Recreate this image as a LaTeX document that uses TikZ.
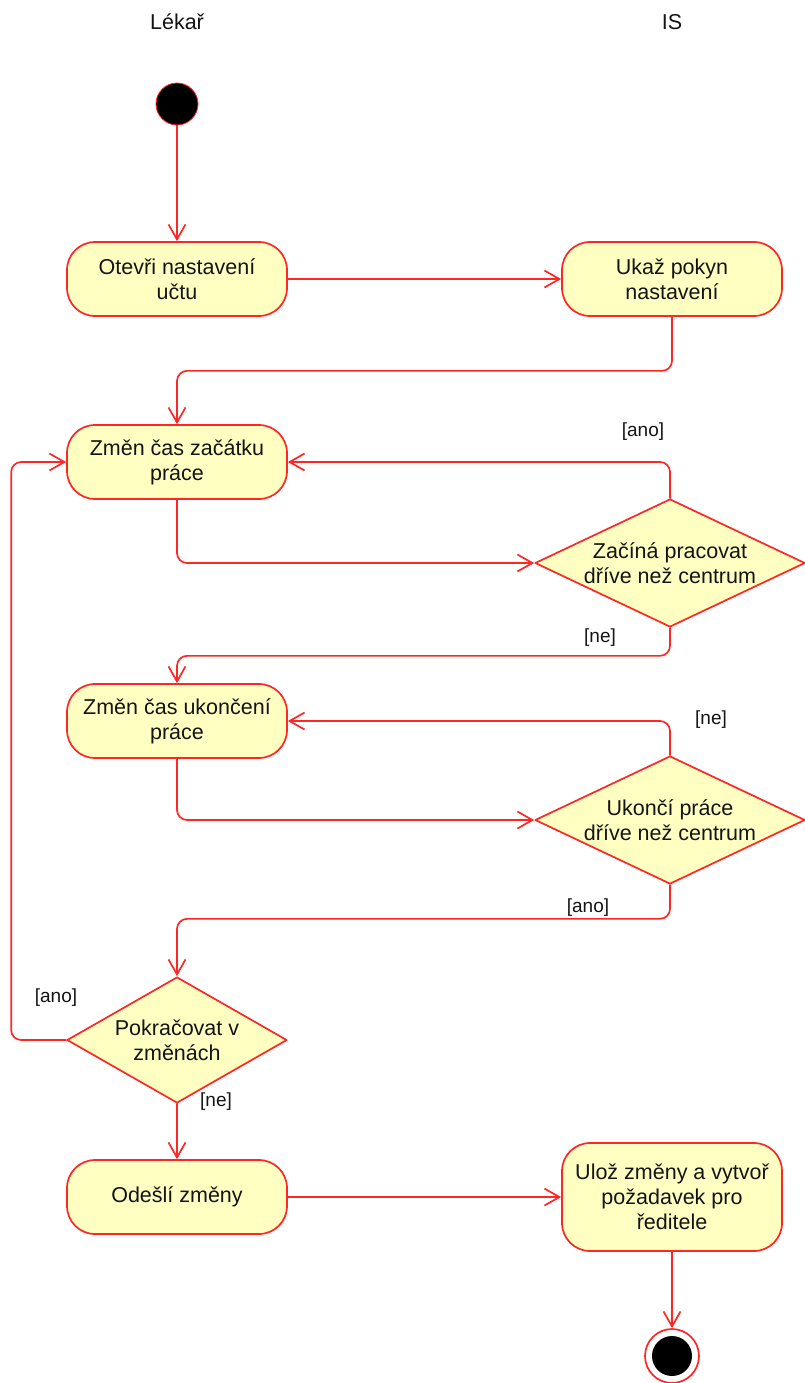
\documentclass[tikz,border=0pt]{standalone}
\usepackage{fontspec}
\setmainfont{Liberation Sans}
\usetikzlibrary{shapes.geometric,arrows.meta}
\definecolor{umlred}{RGB}{255,38,38}
\definecolor{umlfill}{RGB}{255,255,194}
\definecolor{umltext}{RGB}{20,20,20}
\begin{document}
\begin{tikzpicture}[x=1pt, y=-1pt, line cap=round, line join=round, font=\fontsize{21.5}{25}\selectfont, >={Straight Barb[length=15pt,width=17pt]}]
			\tikzset{action/.style={draw=umlred, line width=1.7pt, fill=umlfill, text=umltext, rounded corners=28pt, minimum width=220pt, minimum height=74pt, align=center, inner sep=0pt},
				decision/.style={draw=umlred, line width=1.7pt, fill=umlfill, text=umltext, diamond, aspect=2.1, minimum width=270pt, minimum height=128pt, align=center, inner sep=0pt},
				flow/.style={draw=umlred, line width=1.7pt, ->, rounded corners=10pt},
				guard/.style={text=umltext, font=\fontsize{19}{22}\selectfont},
				lane/.style={text=umltext}}
			\useasboundingbox (0,0) rectangle (805,1383);
			\node[lane] (lekar) at (177,22) {Lékař};
			\node[lane] (is) at (672,22) {IS};
			\node[circle, fill=black, draw=umlred, line width=0.8pt, minimum size=42pt, inner sep=0pt] (start) at (177,104) {};
			\node[action] (otevri) at (177,279) {Otevři nastavení\\učtu};
			\node[action] (pokyn) at (672,279) {Ukaž pokyn\\nastavení};
			\node[action] (zacatek) at (177,462) {Změn čas začátku\\práce};
			\node[decision] (drive) at (670,563) {Začíná pracovat\\dříve než centrum};
			\node[action] (konec) at (177,721) {Změn čas ukončení\\práce};
			\node[decision] (ukonci) at (670,820) {Ukončí práce\\dříve než centrum};
			\node[decision, aspect=1.75, minimum width=220pt, minimum height=126pt] (pokracovat) at (177,1040) {Pokračovat v\\změnách};
			\node[action] (odesli) at (177,1197) {Odešlí změny};
			\node[action, minimum height=108pt] (uloz) at (672,1197) {Ulož změny a vytvoř\\požadavek pro\\ředitele};
			\node[circle, draw=umlred, line width=1.7pt, fill=white, minimum size=54pt, inner sep=0pt] (stop) at (672,1356) {};
			\node[circle, fill=black, minimum size=40pt, inner sep=0pt] (stopin) at (stop) {};
			\node[guard] (g1) at (643,432) {[ano]};
			\node[guard] (g2) at (600,638) {[ne]};
			\node[guard] (g3) at (711,720) {[ne]};
			\node[guard] (g4) at (588,908) {[ano]};
			\node[guard] (g5) at (56,998) {[ano]};
			\node[guard] (g6) at (216,1102) {[ne]};
			\draw[flow] (start) -- (otevri);
			\draw[flow] (otevri) -- (pokyn);
			\draw[flow] (pokyn.south) -- ++(0,54) -| (zacatek.north);
			\draw[flow] (zacatek.south) |- (drive.west);
			\draw[flow] (drive.north) |- (zacatek.east);
			\draw[flow] (drive.south) -- ++(0,28) -| (konec.north);
			\draw[flow] (konec.south) |- (ukonci.west);
			\draw[flow] (ukonci.north) |- (konec.east);
			\draw[flow] (ukonci.south) -- ++(0,34) -| (pokracovat.north);
			\draw[flow] (pokracovat.west) -- ++(-55,0) |- (zacatek.west);
			\draw[flow] (pokracovat) -- (odesli);
			\draw[flow] (odesli) -- (uloz);
			\draw[flow] (uloz) -- (stop);
		\end{tikzpicture}
\end{document}
